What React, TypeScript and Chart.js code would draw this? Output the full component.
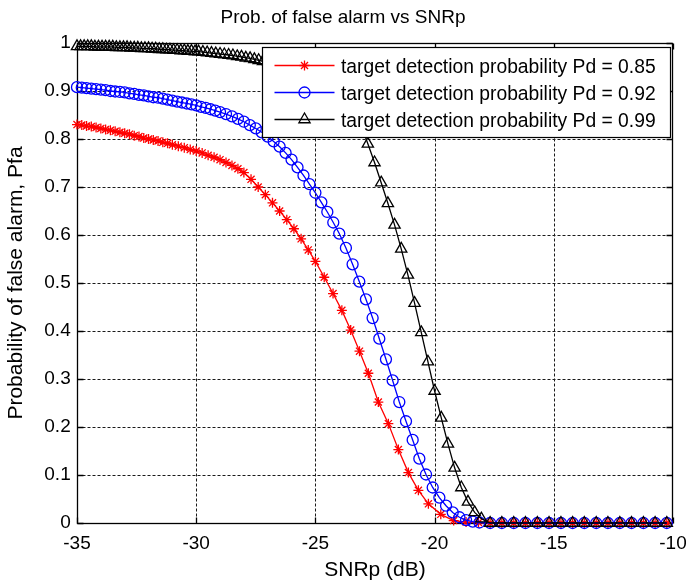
import React, { useEffect, useRef } from "react";
import { Chart, registerables } from "chart.js";
import { drawPoint } from "chart.js/helpers";

Chart.register(...registerables);

const TITLE = "Prob. of false alarm vs SNRp";
const X_LABEL = "SNRp (dB)";
const Y_LABEL = "Probability of false alarm, Pfa";
const SERIES_LABELS = [
  "target detection probability Pd = 0.85",
  "target detection probability Pd = 0.92",
  "target detection probability Pd = 0.99",
];
const X_TICKS = [-35, -30, -25, -20, -15, -10];
const Y_TICKS = [0, 0.1, 0.2, 0.3, 0.4, 0.5, 0.6, 0.7, 0.8, 0.9, 1];

// shared flat tail (all curves at ~0)
const TAIL_X = [-17.67, -17.18, -16.68, -16.19, -15.69, -15.2, -14.7, -14.21, -13.72, -13.22, -12.73, -12.23, -11.74, -11.24, -10.75, -10.26];
const TAIL_Y = [0, 0, 0, 0, 0, 0, 0, 0, 0, 0, 0, 0, 0, 0, 0, 0];

// Pd = 0.85
const RED_X = [
  -35, -34.8, -34.6, -34.4, -34.2, -34, -33.8, -33.6, -33.4, -33.2, -33, -32.8, -32.6, -32.4, -32.2, -32,
  -31.8, -31.6, -31.4, -31.2, -31, -30.75, -30.5, -30.25, -30, -29.75, -29.5, -29.25, -29, -28.75, -28.5,
  -28.25, -28, -27.7, -27.4, -27.1, -26.8, -26.5, -26.2, -25.9, -25.6, -25.3, -25, -24.63, -24.26, -23.89,
  -23.52, -23.15, -22.78, -22.36, -21.94, -21.52, -21.1, -20.68, -20.26, -19.74, -19.2, -18.68, -18.16,
];
const RED_Y = [
  0.83, 0.829, 0.827, 0.826, 0.824, 0.822, 0.82, 0.818, 0.816, 0.814, 0.812, 0.81, 0.807, 0.805, 0.802, 0.8,
  0.798, 0.796, 0.793, 0.791, 0.788, 0.785, 0.782, 0.778, 0.775, 0.771, 0.766, 0.762, 0.757, 0.751, 0.745,
  0.738, 0.73, 0.716, 0.7, 0.684, 0.667, 0.65, 0.632, 0.613, 0.592, 0.569, 0.545, 0.512, 0.478, 0.443,
  0.402, 0.358, 0.312, 0.252, 0.207, 0.153, 0.105, 0.068, 0.04, 0.018, 0.005, 0.002, 0.001,
];

// Pd = 0.92
const BLUE_X = [
  -35, -34.8, -34.6, -34.4, -34.2, -34, -33.8, -33.6, -33.4, -33.2, -33, -32.8, -32.6, -32.4, -32.2, -32,
  -31.8, -31.6, -31.4, -31.2, -31, -30.8, -30.6, -30.4, -30.2, -30, -29.8, -29.6, -29.4, -29.2, -29,
  -28.75, -28.5, -28.25, -28, -27.75, -27.5, -27.25, -27, -26.75, -26.5, -26.25, -26, -25.75, -25.5, -25.25,
  -25, -24.75, -24.5, -24.25, -24, -23.72, -23.44, -23.16, -22.88, -22.6, -22.32, -22.04, -21.76, -21.48,
  -21.2, -20.92, -20.64, -20.36, -20.08, -19.8, -19.52, -19.24, -18.96, -18.68, -18.4, -18.12,
];
const BLUE_Y = [
  0.908, 0.907, 0.906, 0.905, 0.904, 0.903, 0.902, 0.9, 0.899, 0.898, 0.897, 0.895, 0.894, 0.892, 0.891, 0.889,
  0.887, 0.886, 0.884, 0.882, 0.88, 0.878, 0.876, 0.874, 0.872, 0.87, 0.867, 0.865, 0.862, 0.859, 0.856,
  0.852, 0.847, 0.842, 0.836, 0.829, 0.822, 0.814, 0.805, 0.795, 0.784, 0.771, 0.757, 0.741, 0.724, 0.706,
  0.688, 0.668, 0.648, 0.626, 0.603, 0.573, 0.539, 0.503, 0.466, 0.427, 0.384, 0.341, 0.297, 0.252,
  0.212, 0.173, 0.134, 0.101, 0.074, 0.053, 0.036, 0.022, 0.012, 0.006, 0.003, 0.001,
];

// Pd = 0.99
const BLACK_X = [
  -35, -34.85, -34.7, -34.55, -34.4, -34.25, -34.1, -33.95, -33.8, -33.65, -33.5, -33.35, -33.2, -33.05,
  -32.9, -32.75, -32.6, -32.45, -32.3, -32.15, -32, -31.85, -31.7, -31.55, -31.4, -31.25, -31.1, -30.95,
  -30.8, -30.65, -30.5, -30.35, -30.2, -30.05, -29.9, -29.72, -29.54, -29.36, -29.18, -29, -28.82, -28.64,
  -28.46, -28.28, -28.1, -27.92, -27.74, -27.56, -27.38, -27.2, -26.98, -26.76, -26.54, -26.32, -26.1,
  -25.88, -25.66, -25.44, -25.22, -25, -24.76, -24.52, -24.28, -24.04, -23.8, -23.56, -23.32, -23.08,
  -22.8, -22.52, -22.24, -21.96, -21.68, -21.4, -21.12, -20.84, -20.56, -20.28, -20, -19.72, -19.44,
  -19.16, -18.88, -18.6, -18.32, -18.04,
];
const BLACK_Y = [
  0.993, 0.993, 0.993, 0.993, 0.993, 0.992, 0.992, 0.992, 0.992, 0.992, 0.992, 0.991, 0.991, 0.991,
  0.991, 0.99, 0.99, 0.99, 0.989, 0.989, 0.989, 0.988, 0.988, 0.987, 0.987, 0.986, 0.986, 0.985,
  0.985, 0.984, 0.984, 0.983, 0.983, 0.982, 0.982, 0.981, 0.98, 0.979, 0.978, 0.977, 0.976, 0.975,
  0.974, 0.972, 0.971, 0.969, 0.968, 0.966, 0.964, 0.962, 0.96, 0.957, 0.954, 0.95, 0.947,
  0.943, 0.938, 0.933, 0.928, 0.922, 0.915, 0.907, 0.898, 0.889, 0.877, 0.864, 0.848, 0.828,
  0.79, 0.751, 0.709, 0.666, 0.621, 0.571, 0.517, 0.458, 0.397, 0.336, 0.275, 0.219, 0.165,
  0.115, 0.074, 0.044, 0.022, 0.009,
];

const RED = "#ff0000";
const BLUE = "#0000ff";
const BLACK = "#000000";
const FONT = '"Liberation Sans", Arial, Helvetica, sans-serif';
const LW = 1.3;

function points(xs: number[], ys: number[]) {
  const a = xs.map((x, i) => ({ x, y: ys[i] }));
  const b = TAIL_X.map((x, i) => ({ x, y: TAIL_Y[i] }));
  return a.concat(b);
}

const framePlugin = {
  id: "matlabFrame",
  beforeDatasetsDraw(chart: any) {
    const { ctx, chartArea: ca, scales } = chart;
    const xs = scales.x;
    const ys = scales.y;
    const L = Math.round(ca.left) + 0.5;
    const R = Math.round(ca.right) - 0.5;
    const T = Math.round(ca.top) + 0.5;
    const B = Math.round(ca.bottom) + 0.5;
    ctx.save();
    ctx.lineWidth = 1;
    ctx.strokeStyle = "#1a1a1a";
    ctx.setLineDash([3, 2]);
    for (const v of X_TICKS) {
      const px = Math.round(xs.getPixelForValue(v)) + 0.5;
      if (px <= L + 1 || px >= R - 1) continue;
      ctx.beginPath();
      ctx.moveTo(px, T);
      ctx.lineTo(px, B);
      ctx.stroke();
    }
    for (const v of Y_TICKS) {
      const py = Math.round(ys.getPixelForValue(v)) + 0.5;
      if (py <= T + 1 || py >= B - 1) continue;
      ctx.beginPath();
      ctx.moveTo(L, py);
      ctx.lineTo(R, py);
      ctx.stroke();
    }
    ctx.setLineDash([]);
    ctx.strokeStyle = "#000";
    ctx.lineWidth = 1.3;
    ctx.strokeRect(L, T, R - L, B - T);
    const tl = 6;
    ctx.beginPath();
    for (const v of X_TICKS) {
      const px = Math.round(xs.getPixelForValue(v)) + 0.5;
      ctx.moveTo(px, B);
      ctx.lineTo(px, B - tl);
      ctx.moveTo(px, T);
      ctx.lineTo(px, T + tl);
    }
    for (const v of Y_TICKS) {
      const py = Math.round(ys.getPixelForValue(v)) + 0.5;
      ctx.moveTo(L, py);
      ctx.lineTo(L + tl, py);
      ctx.moveTo(R, py);
      ctx.lineTo(R - tl, py);
    }
    ctx.stroke();
    ctx.restore();
  },
};

const legendPlugin = {
  id: "matlabLegend",
  afterDatasetsDraw(chart: any) {
    const { ctx, chartArea: ca } = chart;
    const w = 408;
    const h = 90;
    const right = Math.round(ca.right) - 2.5;
    const left = right - w;
    const top = Math.round(ca.top) + 4.5;
    ctx.save();
    ctx.fillStyle = "#ffffff";
    ctx.fillRect(left, top, w, h);
    ctx.strokeStyle = "#000";
    ctx.lineWidth = 1.2;
    ctx.strokeRect(left, top, w, h);
    chart.data.datasets.forEach((ds: any, i: number) => {
      const y = top + 18 + i * 27;
      ctx.strokeStyle = ds.borderColor;
      ctx.lineWidth = LW;
      ctx.beginPath();
      ctx.moveTo(left + 12, y);
      ctx.lineTo(left + 72, y);
      ctx.stroke();
      ctx.fillStyle = "rgba(0,0,0,0)";
      drawPoint(ctx, { pointStyle: ds.pointStyle, radius: ds.pointRadius, rotation: 0, borderWidth: LW } as any, left + 42, y);
      ctx.fillStyle = "#000";
      ctx.font = `19.3px ${FONT}`;
      ctx.textAlign = "left";
      ctx.textBaseline = "alphabetic";
      ctx.fillText(ds.label, left + 78.5, y + 7);
    });
    ctx.restore();
  },
};

export default function App() {
  const ref = useRef<HTMLCanvasElement | null>(null);
  useEffect(() => {
    if (!ref.current) return;
    Chart.defaults.font.family = FONT;
    Chart.defaults.color = "#000";
    const common = { borderWidth: LW, pointBorderWidth: LW, pointBackgroundColor: "rgba(0,0,0,0)", showLine: true, fill: false, tension: 0, clip: false as any };
    const chart = new Chart(ref.current, {
      type: "scatter",
      data: {
        datasets: [
          { ...common, label: SERIES_LABELS[0], data: points(RED_X, RED_Y), borderColor: RED, pointBorderColor: RED, pointStyle: "star", pointRadius: 5, order: 2 },
          { ...common, label: SERIES_LABELS[1], data: points(BLUE_X, BLUE_Y), borderColor: BLUE, pointBorderColor: BLUE, pointStyle: "circle", pointRadius: 5.5, order: 1 },
          { ...common, label: SERIES_LABELS[2], data: points(BLACK_X, BLACK_Y), borderColor: BLACK, pointBorderColor: BLACK, pointStyle: "triangle", pointRadius: 6.5, order: 0 },
        ] as any,
      },
      options: {
        animation: false,
        responsive: false,
        devicePixelRatio: 1,
        events: [],
        layout: { padding: 0 },
        plugins: {
          legend: { display: false },
          tooltip: { enabled: false },
          title: {
            display: true,
            text: TITLE,
            color: "#000",
            font: { family: FONT, size: 19, weight: "normal" as any },
            padding: { top: 6, bottom: 14.2 },
          },
        },
        scales: {
          x: {
            type: "linear",
            min: -35,
            max: -10,
            grid: { display: false, drawTicks: false },
            border: { display: false },
            ticks: {
              color: "#000",
              font: { family: FONT, size: 19 },
              padding: 9,
              maxRotation: 0,
              autoSkip: false,
              callback: (v: any) => String(v),
            },
            title: { display: true, text: X_LABEL, color: "#000", font: { family: FONT, size: 21 }, padding: { top: 0, bottom: 3.5 } },
            afterBuildTicks: (s: any) => {
              s.ticks = X_TICKS.map((v) => ({ value: v }));
            },
            afterFit: (s: any) => {
              s.height = 63;
              s.paddingLeft = 0;
              s.paddingRight = 13;
            },
          },
          y: {
            type: "linear",
            min: 0,
            max: 1,
            grid: { display: false, drawTicks: false },
            border: { display: false },
            ticks: {
              color: "#000",
              font: { family: FONT, size: 19 },
              padding: 6.3,
              autoSkip: false,
              callback: (v: any) => String(Math.round(Number(v) * 10) / 10),
            },
            title: { display: true, text: Y_LABEL, color: "#000", font: { family: FONT, size: 21 }, padding: { top: 3.5, bottom: 0 } },
            afterBuildTicks: (s: any) => {
              s.ticks = Y_TICKS.map((v) => ({ value: v }));
            },
            afterFit: (s: any) => {
              s.width = 77;
              s.paddingTop = 0;
              s.paddingBottom = 0;
            },
          },
        },
      },
      plugins: [framePlugin, legendPlugin],
    });
    return () => chart.destroy();
  }, []);
  return (
    <div style={{ position: "absolute", left: 0, top: 0, width: 686, height: 586, background: "#fff" }}>
      <canvas ref={ref} width={686} height={586} style={{ display: "block", width: 686, height: 586 }} />
    </div>
  );
}
